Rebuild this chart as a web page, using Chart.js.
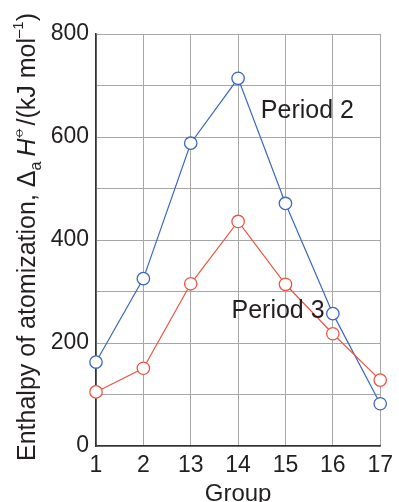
<!DOCTYPE html>
<html>
<head>
<meta charset="utf-8">
<script src="https://cdn.jsdelivr.net/npm/chart.js@4"></script>
<style>
  html, body { margin: 0; padding: 0; background: #ffffff; }
  #wrap { width: 399px; height: 502px; position: relative; }
</style>
</head>
<body>
<div id="wrap"><canvas id="atomization"></canvas></div>
<script>
const groups = ['1', '2', '13', '14', '15', '16', '17'];
const period2 = [163, 325, 588, 714, 471, 257, 82];
const period3 = [105, 151, 315, 436, 314, 218, 128];
const yTicks = [0, 200, 400, 600, 800];

const FONT = '"Liberation Sans", Arial, Helvetica, sans-serif';
const INK = '#231f20';
const BLUE = '#3a68bd';
const RED = '#ef5440';

// series labels placed in data space (group index, enthalpy)
const seriesLabels = [
    { text: 'Period 2', at: [3.48, 636] },
    { text: 'Period 3', at: [2.86, 248] }
];

// y-axis title with subscript, italic and superscripts
const yTitleParts = [
    { t: 'Enthalpy of atomization, \u0394' },
    { t: 'a', scale: 0.62, dy: 0.22 },
    { t: '\u2009' },
    { t: 'H', italic: true },
    { t: '\u29B5', scale: 0.6, dy: -0.5 },
    { t: '/(kJ mol' },
    { t: '\u20131', scale: 0.6, dy: -0.5 },
    { t: ')' }
];

const textPlugin = {
    id: 'textPlugin',
    afterDraw(chart) {
        const ctx = chart.ctx;
        const xs = chart.scales.x;
        const ys = chart.scales.y;
        ctx.save();
        ctx.fillStyle = INK;
        ctx.textBaseline = 'alphabetic';
        ctx.textAlign = 'left';

        ctx.font = '25px ' + FONT;
        seriesLabels.forEach(l => {
            ctx.fillText(l.text, xs.getPixelForValue(l.at[0]), ys.getPixelForValue(l.at[1]));
        });

        // x-axis title
        ctx.textAlign = 'center';
        ctx.font = '24px ' + FONT;
        ctx.fillText('Group', (chart.chartArea.left + chart.chartArea.right) / 2, 501);

        // rotated y-axis title
        const size = 25;
        const fontFor = p => (p.italic ? 'italic ' : '') + Math.round(size * (p.scale || 1)) + 'px ' + FONT;
        let total = 0;
        yTitleParts.forEach(p => { ctx.font = fontFor(p); total += ctx.measureText(p.t).width; });
        const cy = (chart.chartArea.top + chart.chartArea.bottom) / 2 - 3;
        ctx.translate(35, cy);
        ctx.rotate(-Math.PI / 2);
        ctx.textAlign = 'left';
        let x = -total / 2;
        yTitleParts.forEach(p => {
            ctx.font = fontFor(p);
            ctx.fillText(p.t, x, (p.dy || 0) * size);
            x += ctx.measureText(p.t).width;
        });
        ctx.restore();
    }
};

const ctx = document.getElementById('atomization').getContext('2d');
new Chart(ctx, {
    type: 'line',
    data: {
        labels: groups,
        datasets: [
            {
                label: 'Period 3',
                data: period3,
                borderColor: RED,
                borderWidth: 1.2,
                pointRadius: 6.2,
                pointBorderWidth: 1.3,
                pointBackgroundColor: '#ffffff',
                pointBorderColor: RED,
                tension: 0
            },
            {
                label: 'Period 2',
                data: period2,
                borderColor: BLUE,
                borderWidth: 1.2,
                pointRadius: 6.2,
                pointBorderWidth: 1.3,
                pointBackgroundColor: '#ffffff',
                pointBorderColor: BLUE,
                tension: 0
            }
        ]
    },
    options: {
        responsive: true,
        maintainAspectRatio: false,
        animation: false,
        layout: { padding: { top: 34, right: 15, left: 0, bottom: 0 } },
        plugins: {
            legend: { display: false },
            tooltip: { enabled: false }
        },
        scales: {
            x: {
                offset: false,
                grid: { color: '#a7a7a7', lineWidth: 1, drawTicks: false },
                border: { color: '#333333', width: 1.6 },
                ticks: { color: INK, font: { family: FONT, size: 23 }, padding: 6, maxRotation: 0 },
                afterFit(scale) { scale.height = 56; }
            },
            y: {
                min: 0,
                max: 800,
                grid: { color: '#a7a7a7', lineWidth: 1, drawTicks: false },
                border: { color: '#333333', width: 1.6 },
                ticks: {
                    stepSize: 100,
                    color: INK,
                    font: { family: FONT, size: 23 },
                    padding: 7,
                    callback: v => (yTicks.includes(v) ? String(v) : '')
                },
                afterFit(scale) { scale.width = 96; }
            }
        }
    },
    plugins: [textPlugin]
});
</script>
</body>
</html>
